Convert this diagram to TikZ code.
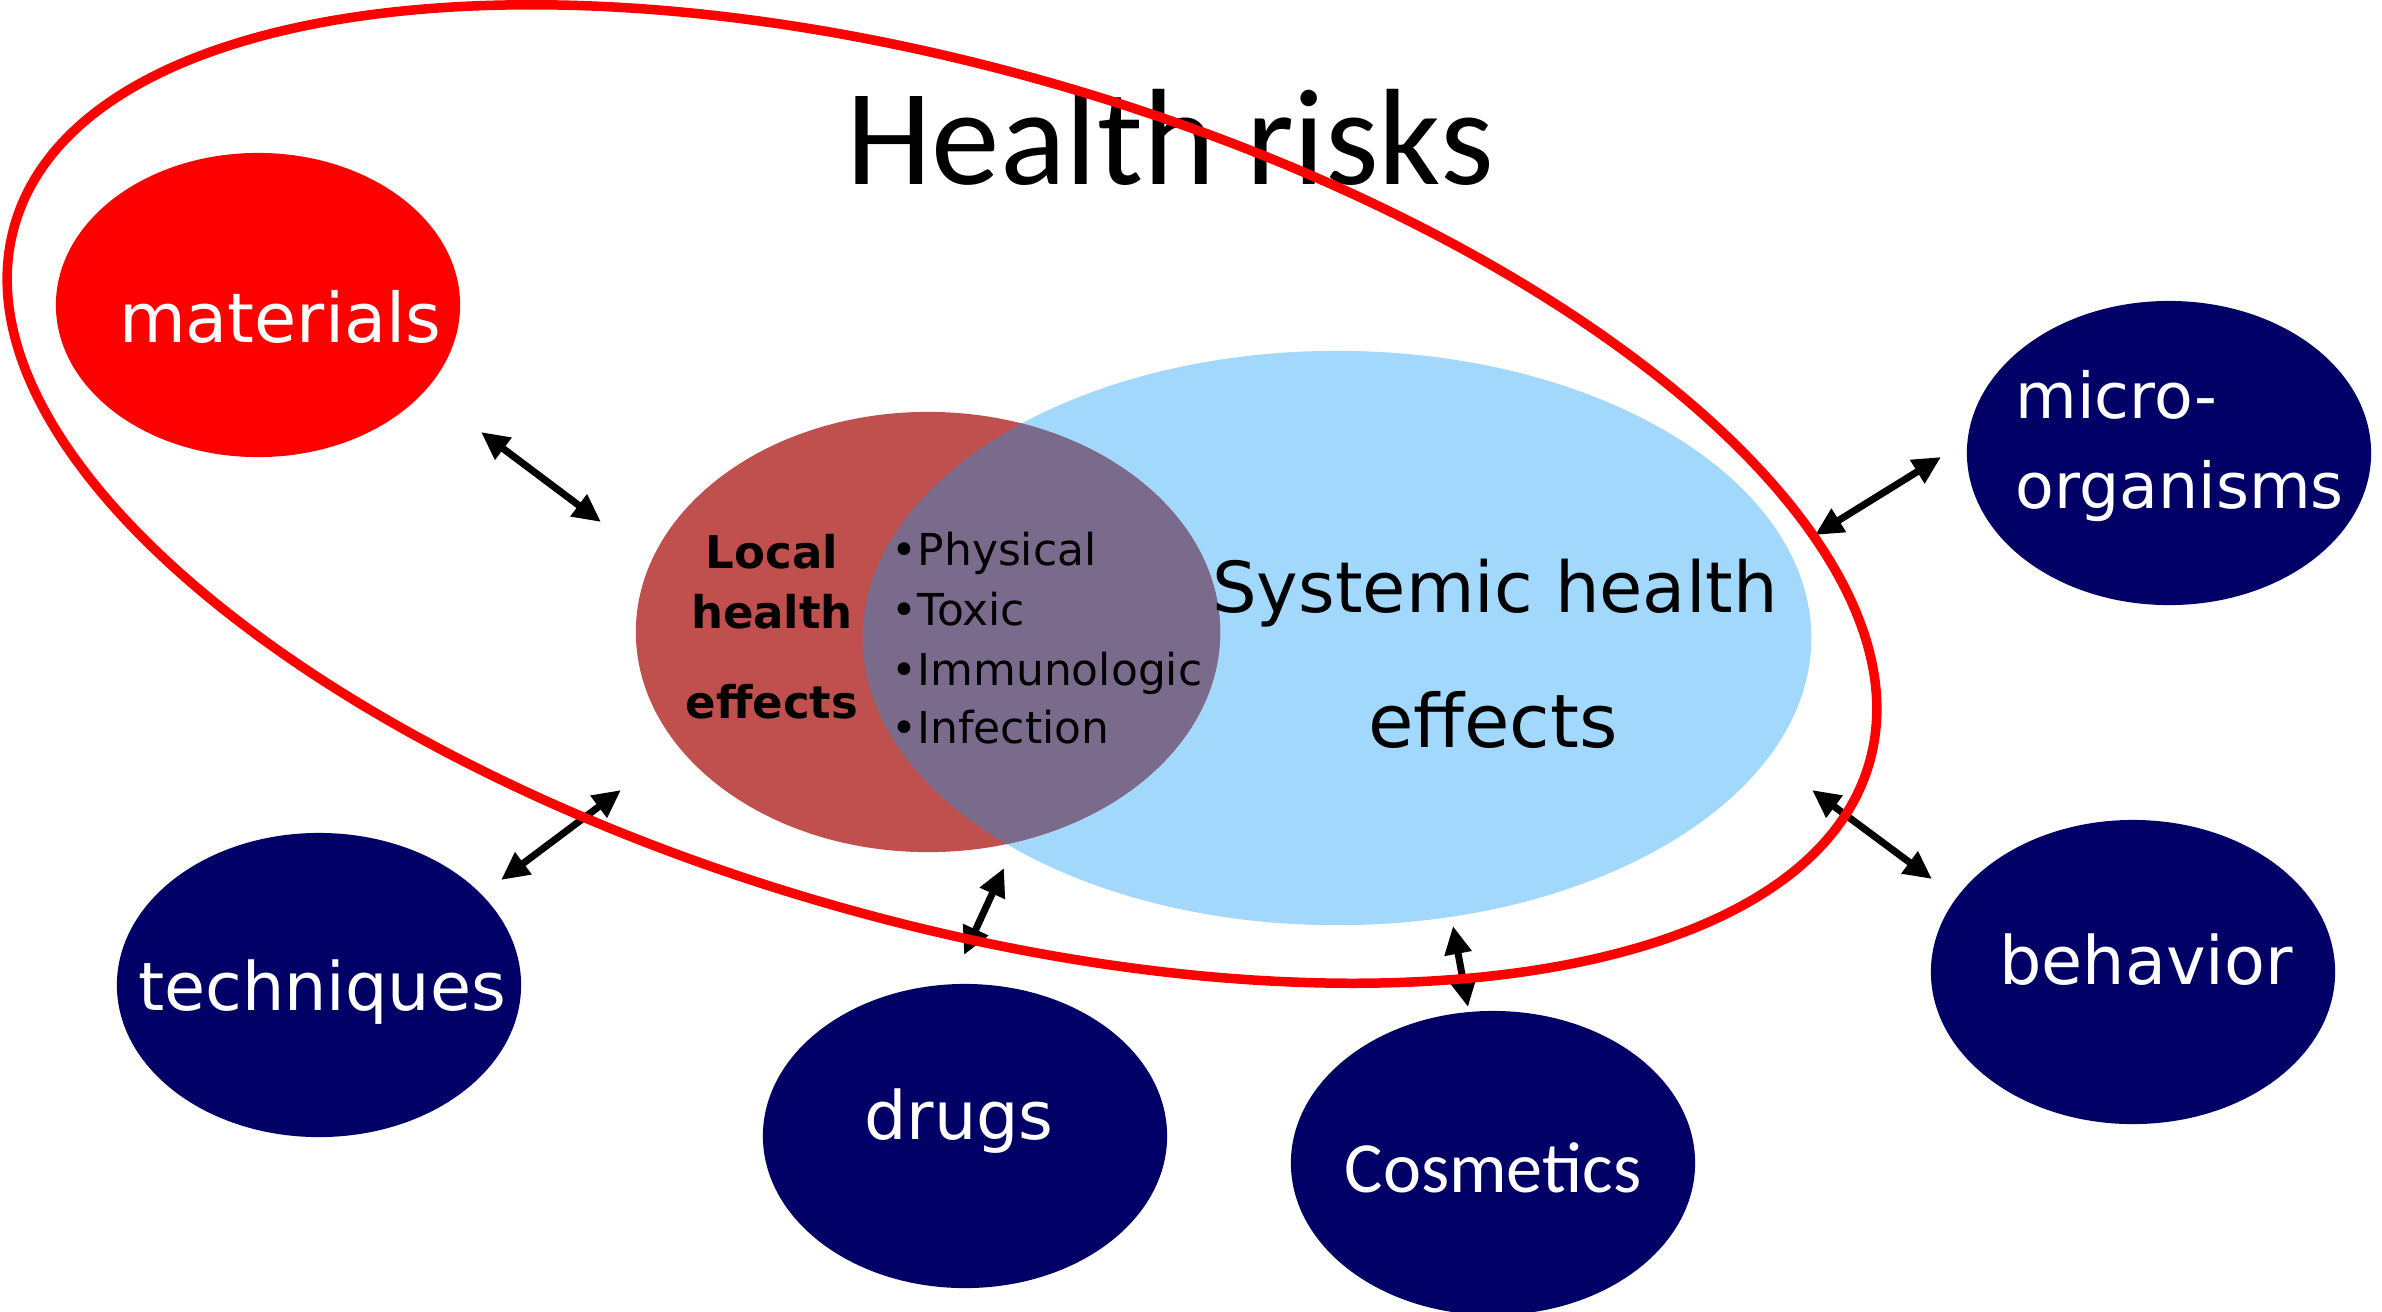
\documentclass[tikz,border=0pt]{standalone}
\usepackage{fontspec}
\newfontfamily\comicfont{DejaVu Sans}
\newfontfamily\calibfont{Carlito}
\usetikzlibrary{shapes.geometric,arrows.meta}
\definecolor{navyblob}{RGB}{0,0,102}
\definecolor{redblob}{RGB}{255,0,0}
\definecolor{localfill}{RGB}{192,80,77}
\definecolor{systfill}{RGB}{162,216,252}
\definecolor{overlapfill}{RGB}{122,106,140}
\begin{document}
\begin{tikzpicture}[x=0.01cm,y=-0.01cm,
  blob/.style={ellipse,inner sep=0pt,minimum width=4.04cm,minimum height=3.04cm,fill=navyblob,draw=none},
  wlabel/.style={text=white,font=\comicfont\fontsize{19}{23}\selectfont,inner sep=0pt,anchor=base},
  blabel/.style={text=black,font=\comicfont\fontsize{20}{24}\selectfont,inner sep=0pt,anchor=base},
  boldlabel/.style={text=black,font=\comicfont\bfseries\fontsize{12.8}{15}\selectfont,inner sep=0pt,anchor=base},
  bullet/.style={text=black,font=\comicfont\fontsize{12.5}{15}\selectfont,inner sep=0pt,anchor=base west},
  link/.style={line width=2pt,{Triangle[length=0.28cm,width=0.26cm]}-{Triangle[length=0.28cm,width=0.26cm]}},
  ring/.style={draw=redblob,line width=2.7pt}
]
\useasboundingbox (0,0) rectangle (2382,1311);

% central effect ellipses
\node[ellipse,inner sep=0pt,minimum width=9.48cm,minimum height=5.74cm,fill=systfill] (systemic) at (1337,638) {};
\node[ellipse,inner sep=0pt,minimum width=5.84cm,minimum height=4.40cm,fill=localfill] (local) at (928,632) {};
\begin{scope}
  \clip (local.center) ellipse [x radius=2.92cm,y radius=2.20cm];
  \fill[overlapfill] (systemic.center) ellipse [x radius=4.74cm,y radius=2.87cm];
\end{scope}

% source ellipses
\node[blob,fill=redblob] (materials) at (258,305) {};
\node[blob] (microorg) at (2169,453) {};
\node[blob] (behavior) at (2133,972) {};
\node[blob] (techniques) at (319,985) {};
\node[blob] (drugs) at (965,1136) {};
\node[blob] (cosmetics) at (1493,1163) {};

% labels
\node[inner sep=0pt,anchor=base,font=\calibfont\fontsize{39}{46}\selectfont] (title) at (1170,184) {Health risks};
\node[wlabel,font=\comicfont\fontsize{19.5}{23}\selectfont] (tmaterials) at (280,342) {materials};
\node[wlabel,anchor=base west,font=\comicfont\fontsize{18}{22}\selectfont] (tmicro) at (2015,418) {micro-};
\node[wlabel,anchor=base west,font=\comicfont\fontsize{18}{22}\selectfont] (torganisms) at (2015,508) {organisms};
\node[wlabel] (ttechniques) at (322,1010) {techniques};
\node[wlabel] (tdrugs) at (959,1139) {drugs};
\node[wlabel] (tbehavior) at (2146,984) {behavior};
\node[wlabel,font=\calibfont\fontsize{20.5}{24}\selectfont] (tcosmetics) at (1493,1192) {Cosmetics};

\node[boldlabel] (tlocal) at (772,568) {Local};
\node[boldlabel] (thealth) at (772,628) {health};
\node[boldlabel] (teffects) at (772,718) {effects};

\node[bullet] (bphys) at (891,565) {•Physical};
\node[bullet] (btox) at (891,625) {•Toxic};
\node[bullet] (bimm) at (891,685) {•Immunologic};
\node[bullet] (binf) at (891,743) {•Infection};

\node[blabel] (tsyst) at (1495,612) {Systemic health};
\node[blabel,font=\comicfont\fontsize{21}{24}\selectfont] (tsysteff) at (1493,747) {effects};

% arrow end points
\coordinate (m1) at (481,432); \coordinate (m2) at (601,522);
\coordinate (o1) at (1941,457); \coordinate (o2) at (1815,535);
\coordinate (t1) at (621,790); \coordinate (t2) at (501,880);
\coordinate (d1) at (1004,868); \coordinate (d2) at (964,955);
\coordinate (c1) at (1453,926); \coordinate (c2) at (1468,1007);
\coordinate (b1) at (1812,790); \coordinate (b2) at (1932,879);

\draw[link] (m1) -- (m2);
\draw[link] (o1) -- (o2);
\draw[link] (t1) -- (t2);
\draw[link] (d1) -- (d2);
\draw[link] (c1) -- (c2);
\draw[link] (b1) -- (b2);

% enclosing health-risk ring
\coordinate (ringc) at (942,494);
\draw[ring,rotate around={-16.2:(ringc)}] (ringc) ellipse [x radius=9.65cm,y radius=4.25cm];
\end{tikzpicture}
\end{document}
